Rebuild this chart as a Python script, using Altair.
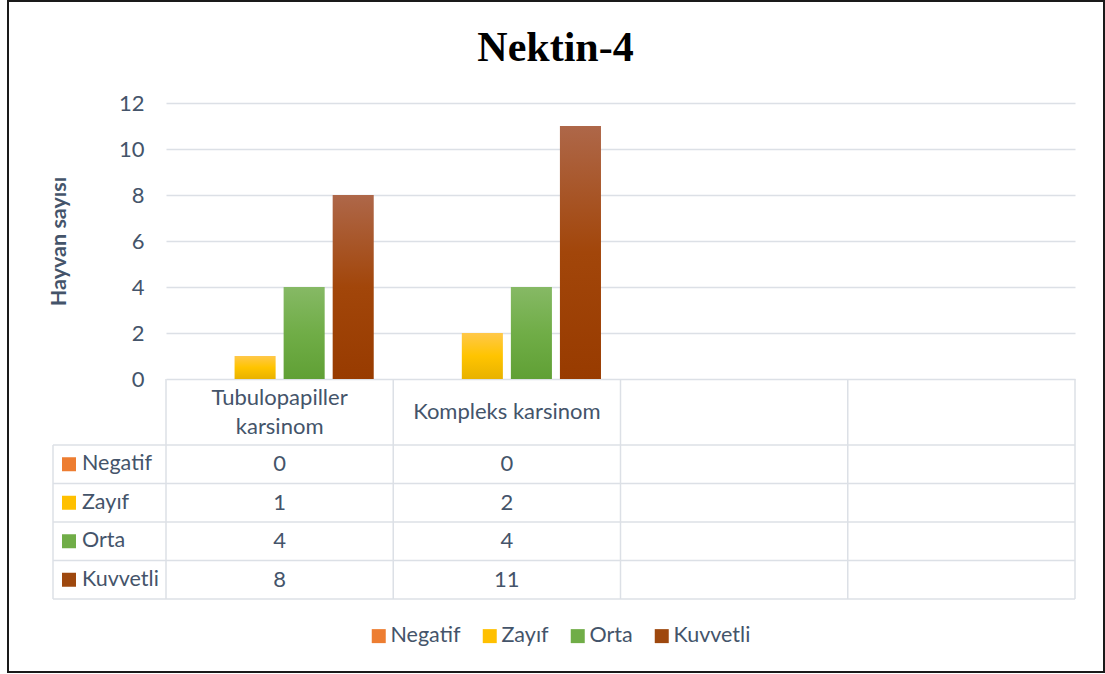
import altair as alt
import pandas as pd

# ---------------- data ----------------
series = ["Negatif", "Zayıf", "Orta", "Kuvvetli"]
categories = ["Tubulopapiller karsinom", "Kompleks karsinom"]
blank_columns = ["bos_1", "bos_2"]
header_labels = ["Tubulopapiller\nkarsinom", "Kompleks karsinom"]
negatif = [0, 0]
zayif = [1, 2]
orta = [4, 4]
kuvvetli = [8, 11]
y_ticks = [0, 2, 4, 6, 8, 10, 12]

base_colors = ["#ED7D31", "#FFC000", "#70AD47", "#9E480E"]
gradient_stops = {
    "Negatif": ["#F29B63", "#ED7D31", "#DE6A1E"],
    "Zayıf": ["#FFC84A", "#FFC400", "#E8B200"],
    "Orta": ["#86B965", "#70AD47", "#60A035"],
    "Kuvvetli": ["#AE6749", "#A2460A", "#983B00"],
}

TEXT = "#44546A"
LINE = "#DCE0E6"
FONT = "Lato"
FS = 22
FS_SMALL = 21.5
LINE_HEIGHT = 29

W, H = 909, 276          # plot area
TABLE_TOP, TABLE_BOTTOM = 342, 496
HEADER_MID = 309
ROW_LEFT = -113

values = {"Negatif": negatif, "Zayıf": zayif, "Orta": orta, "Kuvvetli": kuvvetli}
rows = []
for s in series:
    for c, v in zip(categories, values[s]):
        rows.append({"series": s, "category": c, "value": v})
df = pd.DataFrame(rows)
series_df = pd.DataFrame({"series": series})
cat_df = pd.DataFrame({"category": categories + blank_columns})
head_df = pd.DataFrame({"category": categories, "label": header_labels})
one = pd.DataFrame({"k": [0]})

x_scale = alt.Scale(domain=categories + blank_columns, paddingInner=0, paddingOuter=0)
xoff_scale = alt.Scale(domain=series, paddingInner=0.163, paddingOuter=0.398)
y_scale = alt.Scale(domain=[0, 12], nice=False)
table_scale = alt.Scale(domain=series, range=[TABLE_TOP, TABLE_BOTTOM], paddingInner=0, paddingOuter=0)
color_scale = alt.Scale(domain=series, range=base_colors)


def grad(s):
    c = gradient_stops[s]
    return alt.Gradient(
        gradient="linear", x1=0, y1=0, x2=0, y2=1,
        stops=[alt.GradientStop(color=c[0], offset=0),
               alt.GradientStop(color=c[1], offset=0.5),
               alt.GradientStop(color=c[2], offset=1)],
    )


y_axis = alt.Axis(
    values=y_ticks, grid=True, gridColor=LINE, gridWidth=1.5, domain=False, ticks=False,
    labelFont=FONT, labelFontSize=FS, labelColor=TEXT, labelPadding=22,
    title="Hayvan sayısı", titleFont=FONT, titleFontSize=FS_SMALL, titleFontWeight="bold",
    titleColor=TEXT, titleAngle=-90, titleX=-107, titleY=138,
    titleAlign="center", titleBaseline="middle",
)

layers = []
for i, s in enumerate(series):
    layers.append(
        alt.Chart(df).transform_filter(alt.datum.series == s).mark_bar(fill=grad(s)).encode(
            x=alt.X("category:N", scale=x_scale, axis=None),
            xOffset=alt.XOffset("series:N", scale=xoff_scale),
            y=alt.Y("value:Q", scale=y_scale, axis=y_axis if i == 0 else None),
        )
    )

# table grid lines
h_lines = alt.Chart(series_df).mark_rule(color=LINE, strokeWidth=1.5).encode(
    y=alt.Y("series:N", scale=table_scale, axis=None, bandPosition=0),
    x=alt.value(ROW_LEFT), x2=alt.value(W),
)
h_bottom = alt.Chart(one).mark_rule(color=LINE, strokeWidth=1.5).encode(
    y=alt.value(TABLE_BOTTOM), x=alt.value(ROW_LEFT), x2=alt.value(W),
)
v_lines = alt.Chart(cat_df).mark_rule(color=LINE, strokeWidth=1.5).encode(
    x=alt.X("category:N", scale=x_scale, axis=None, bandPosition=0),
    y=alt.value(H), y2=alt.value(TABLE_BOTTOM),
)
v_right = alt.Chart(one).mark_rule(color=LINE, strokeWidth=1.5).encode(
    x=alt.value(W), y=alt.value(H), y2=alt.value(TABLE_BOTTOM),
)
v_left = alt.Chart(one).mark_rule(color=LINE, strokeWidth=1.5).encode(
    x=alt.value(ROW_LEFT), y=alt.value(TABLE_TOP), y2=alt.value(TABLE_BOTTOM),
)

# table content: header (single-line and wrapped labels centred in the header row)
header_single = alt.Chart(head_df).transform_filter(
    "indexof(datum.label, '\\n') < 0"
).mark_text(font=FONT, fontSize=FS, color=TEXT, baseline="middle").encode(
    x=alt.X("category:N", scale=x_scale, axis=None),
    y=alt.value(HEADER_MID), text="label:N",
)
header_wrapped = alt.Chart(head_df).transform_filter(
    "indexof(datum.label, '\\n') >= 0"
).mark_text(
    font=FONT, fontSize=FS, color=TEXT, lineBreak="\n", lineHeight=LINE_HEIGHT, baseline="middle"
).encode(
    x=alt.X("category:N", scale=x_scale, axis=None),
    y=alt.value(HEADER_MID - LINE_HEIGHT / 2), text="label:N",
)
cells = alt.Chart(df).mark_text(font=FONT, fontSize=FS, color=TEXT, baseline="middle").encode(
    x=alt.X("category:N", scale=x_scale, axis=None),
    y=alt.Y("series:N", scale=table_scale, axis=None),
    text="value:Q",
)
row_labels = alt.Chart(series_df).mark_text(
    font=FONT, fontSize=FS_SMALL, color=TEXT, align="left", baseline="middle"
).encode(
    x=alt.value(-84), y=alt.Y("series:N", scale=table_scale, axis=None), text="series:N",
)
row_keys = alt.Chart(series_df).mark_square(size=196, opacity=1).encode(
    x=alt.value(-97), y=alt.Y("series:N", scale=table_scale, axis=None),
    color=alt.Color(
        "series:N", scale=color_scale,
        legend=alt.Legend(
            orient="none", legendX=202, legendY=522, direction="horizontal", title=None,
            symbolType="square", symbolSize=196, symbolOpacity=1, symbolStrokeWidth=0,
            labelFont=FONT, labelFontSize=FS_SMALL, labelColor=TEXT, labelOffset=1,
            columnPadding=18, padding=0,
        ),
    ),
)

title = alt.Chart(one).mark_text(
    text="Nektin-4", font="Liberation Serif", fontSize=42, fontWeight="bold",
    color="#000000", align="center", baseline="alphabetic",
).encode(x=alt.value(389.5), y=alt.value(-42))

border = alt.Chart(one).mark_rect(fill=None, stroke="#1a1a1a", strokeWidth=2).encode(
    x=alt.value(-158), x2=alt.value(938), y=alt.value(-102), y2=alt.value(569),
)

chart = alt.layer(
    border, *layers, h_lines, h_bottom, v_lines, v_right, v_left,
    header_single, header_wrapped, cells, row_labels, row_keys, title,
).resolve_scale(y="independent").properties(
    width=W, height=H,
    autosize=alt.AutoSizeParams(type="none"),
    padding={"left": 166, "top": 103, "right": 30, "bottom": 295},
    background="white",
).configure_view(stroke=None)

chart.save("out.html", embed_options={"renderer": "svg", "actions": False})
